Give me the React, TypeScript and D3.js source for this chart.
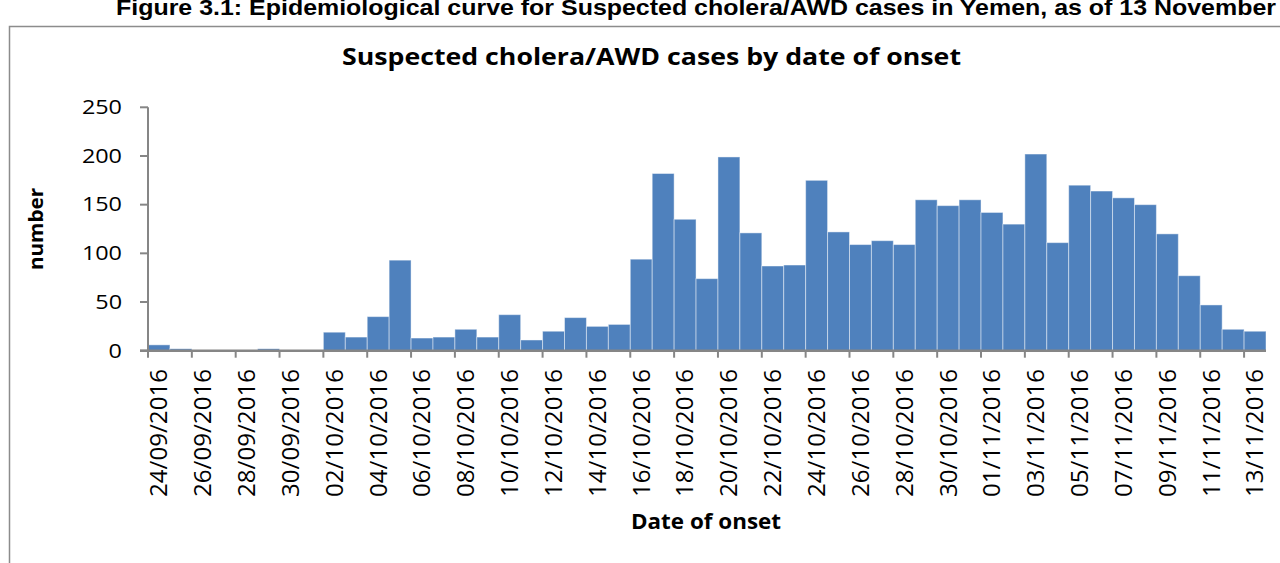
import * as d3 from "d3";

const categories = [
  "24/09/2016", "25/09/2016", "26/09/2016", "27/09/2016", "28/09/2016", "29/09/2016", "30/09/2016",
  "01/10/2016", "02/10/2016", "03/10/2016", "04/10/2016", "05/10/2016", "06/10/2016", "07/10/2016",
  "08/10/2016", "09/10/2016", "10/10/2016", "11/10/2016", "12/10/2016", "13/10/2016", "14/10/2016",
  "15/10/2016", "16/10/2016", "17/10/2016", "18/10/2016", "19/10/2016", "20/10/2016", "21/10/2016",
  "22/10/2016", "23/10/2016", "24/10/2016", "25/10/2016", "26/10/2016", "27/10/2016", "28/10/2016",
  "29/10/2016", "30/10/2016", "31/10/2016", "01/11/2016", "02/11/2016", "03/11/2016", "04/11/2016",
  "05/11/2016", "06/11/2016", "07/11/2016", "08/11/2016", "09/11/2016", "10/11/2016", "11/11/2016",
  "12/11/2016", "13/11/2016",
];

const cases = [
  6, 2, 0, 0, 0, 2, 0,
  0, 19, 14, 35, 93, 13, 14,
  22, 14, 37, 11, 20, 34, 25,
  27, 94, 182, 135, 74, 199, 121,
  87, 88, 175, 122, 109, 113, 109,
  155, 149, 155, 142, 130, 202, 111,
  170, 164, 157, 150, 120, 77, 47,
  22, 20,
];

const yTicks = [0, 50, 100, 150, 200, 250];

const caption =
  "Figure 3.1: Epidemiological curve for Suspected cholera/AWD cases in Yemen, as of 13 November";
const title = "Suspected cholera/AWD cases by date of onset";

const W = 1280;
const H = 563;
const left = 148;
const right = 1266;
const top = 107.3;
const bottom = 350.7;

const font = "'Open Sans', sans-serif";
const axisColor = "#868686";

export default function App() {
  const x = d3.scaleBand<string>().domain(categories).range([left, right]).padding(0);
  const y = d3.scaleLinear().domain([0, 250]).range([bottom, top]);
  const bw = x.bandwidth();

  // tick marks sit on every second category boundary, labels on every second category
  const tickCats = categories.filter((_, i) => i % 2 === 0);

  return (
    <svg
      width={W}
      height={H}
      style={{ position: "absolute", left: 0, top: 0, background: "#fff" }}
    >
      <text
        x={116}
        y={15}
        fontFamily="'Liberation Sans', Arial, sans-serif"
        fontWeight="bold"
        fontSize={22}
        textLength={1160}
        lengthAdjust="spacingAndGlyphs"
        fill="#000"
      >
        {caption}
      </text>

      <rect
        x={9.5}
        y={26.5}
        width={1400}
        height={700}
        fill="none"
        stroke="#8c8c8c"
        strokeWidth={1.5}
      />

      <text
        x={651.5}
        y={65}
        textAnchor="middle"
        fontFamily={font}
        fontWeight="bold"
        fontSize={24}
        textLength={619}
        lengthAdjust="spacingAndGlyphs"
        fill="#000"
      >
        {title}
      </text>

      {/* bars */}
      <g>
        {categories.map((c, i) =>
          cases[i] > 0 ? (
            <rect
              key={c}
              x={x(c)}
              y={y(cases[i])}
              width={bw}
              height={bottom - y(cases[i])}
              fill="#4f81bd"
              stroke="rgba(255,255,255,0.45)"
              strokeWidth={1}
            />
          ) : null
        )}
      </g>

      {/* y axis */}
      <line x1={left} x2={left} y1={top} y2={bottom} stroke={axisColor} strokeWidth={2} />
      {yTicks.map((t) => (
        <g key={t} transform={`translate(0,${y(t)})`}>
          <line x1={left - 8} x2={left} stroke={axisColor} strokeWidth={2} />
          <text
            transform={`translate(${left - 26},0) scale(1.2,1)`}
            dy="0.35em"
            textAnchor="end"
            fontFamily={font}
            fontSize={19.5}
            fill="#000"
          >
            {t}
          </text>
        </g>
      ))}

      {/* x axis */}
      <line x1={left - 8} x2={right} y1={bottom} y2={bottom} stroke={axisColor} strokeWidth={2.5} />
      {tickCats.map((c) => (
        <g key={c}>
          <line
            x1={x(c)!}
            x2={x(c)!}
            y1={bottom}
            y2={bottom + 7}
            stroke={axisColor}
            strokeWidth={2}
          />
          <text
            transform={`translate(${x(c)! + bw / 2},369) rotate(-90)`}
            dy="0.35em"
            textAnchor="end"
            fontFamily={font}
            fontSize={24}
            textLength={128}
            lengthAdjust="spacingAndGlyphs"
            fill="#000"
          >
            {c}
          </text>
        </g>
      ))}

      <text
        x={706}
        y={529}
        textAnchor="middle"
        fontFamily={font}
        fontWeight="bold"
        fontSize={21}
        textLength={150}
        lengthAdjust="spacingAndGlyphs"
        fill="#000"
      >
        Date of onset
      </text>

      <text
        transform="translate(36,229) rotate(-90)"
        dy="0.35em"
        textAnchor="middle"
        fontFamily={font}
        fontWeight="bold"
        fontSize={20}
        textLength={82}
        lengthAdjust="spacingAndGlyphs"
        fill="#000"
      >
        number
      </text>
    </svg>
  );
}
